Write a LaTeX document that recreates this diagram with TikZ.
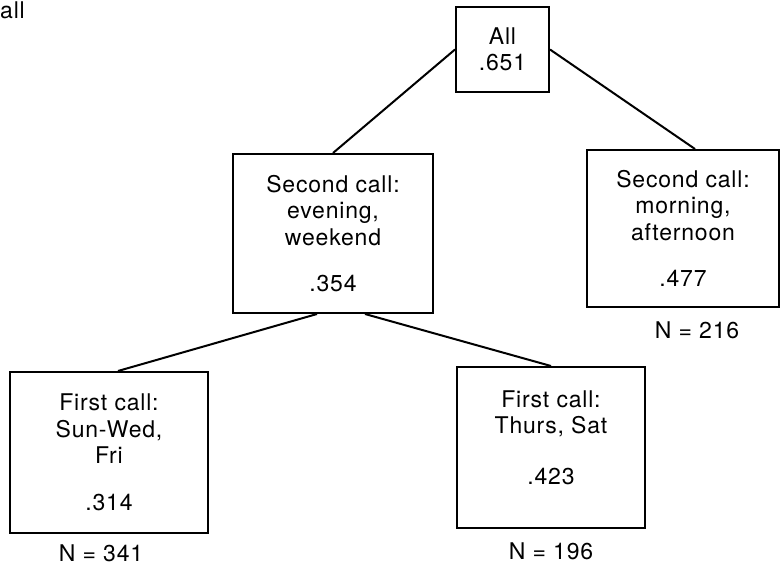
\documentclass[tikz,border=0pt]{standalone}
\usepackage{fontspec}
\setmainfont[LetterSpace=3.5]{TeX Gyre Heros}
\usetikzlibrary{positioning}

\begin{document}
\begin{tikzpicture} [
		x=1pt, y=-1pt,
		every node/.style={inner sep=2pt, node distance=12pt,
			font=\fontsize{23}{26.5}\selectfont, align=center},
		box/.style={draw=black, line width=2pt, rectangle},
		split/.style={line width=2pt},
		count/.style={}
	]
	\useasboundingbox (0,0) rectangle (780,567);
	\node (cap) [anchor=west, inner sep=0pt] at (0,10) {all};

	\node (all) [box, minimum width=93pt, minimum height=85pt] at (502.5,49.5) {All\\.651};

	\node (sc1) [box, minimum width=200pt, minimum height=159pt] at (333,233.5)
		{Second call:\\evening,\\weekend\\[20pt].354};
	\node (sc2) [box, minimum width=192pt, minimum height=157pt] at (683,228.5)
		{Second call:\\morning,\\afternoon\\[20pt].477};
	\node (n2) [count, below=of sc2, xshift=14pt] {N = 216};

	\node (fc1) [box, minimum width=198pt, minimum height=161pt] at (109,452.5)
		{First call:\\Sun-Wed,\\Fri\\[20pt].314};
	\node (n1) [count, below=9pt of fc1, xshift=-8pt] {N = 341};

	\node (fc2) [box, minimum width=188pt, minimum height=161pt, text depth=20pt] at (551,447.5)
		{First call:\\Thurs, Sat\\[24pt].423};
	\node (n3) [count, below=of fc2] {N = 196};

	\draw [split] (all.west) -- (sc1.north);
	\draw [split] (all.east) -- ([xshift=12pt]sc2.north);
	\draw [split] ([xshift=-16pt]sc1.south) -- ([xshift=9pt]fc1.north);
	\draw [split] ([xshift=32pt]sc1.south) -- (fc2.north);

\end{tikzpicture}
\end{document}
